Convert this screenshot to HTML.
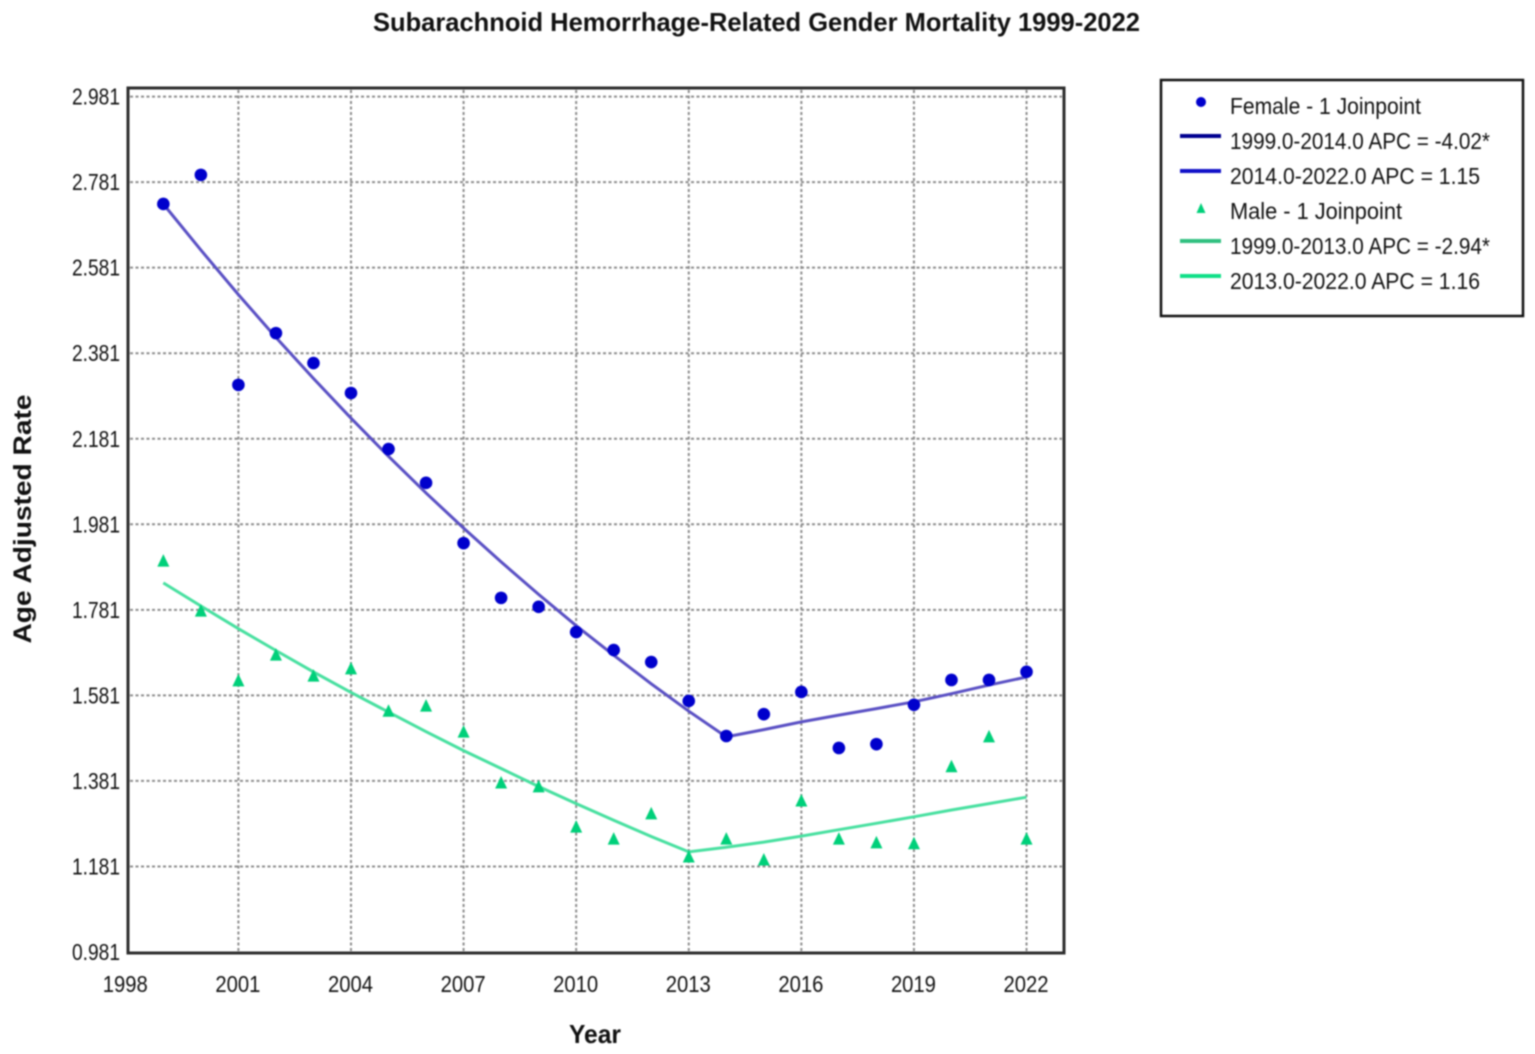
<!DOCTYPE html>
<html lang="en">
<head>
<meta charset="utf-8">
<title>Subarachnoid Hemorrhage-Related Gender Mortality 1999-2022</title>
<style>
  html, body { margin: 0; padding: 0; background: #fff; }
  body { width: 1535px; height: 1054px; overflow: hidden; }
  svg { display: block; filter: blur(0.75px); font-family: "Liberation Sans", "DejaVu Sans", sans-serif; }
</style>
</head>
<body>
<svg id="chart" xmlns="http://www.w3.org/2000/svg" width="1535" height="1054" viewBox="0 0 1535 1054">
  <rect x="0" y="0" width="1535" height="1054" fill="#ffffff"/>
  <text x="373" y="31" font-size="26" font-weight="bold" fill="#111" textLength="767" lengthAdjust="spacingAndGlyphs">Subarachnoid Hemorrhage-Related Gender Mortality 1999-2022</text>
  <g id="grid"></g>
  <rect x="128" y="88" width="936" height="865" fill="none" stroke="#2c2c2c" stroke-width="3"/>
  <g id="ticks"></g>
  <g id="marks"></g>
  <text transform="translate(31,519) rotate(-90)" text-anchor="middle" font-size="25" font-weight="bold" fill="#111" textLength="249" lengthAdjust="spacingAndGlyphs">Age Adjusted Rate</text>
  <text x="595" y="1043" text-anchor="middle" font-size="26" font-weight="bold" fill="#111" textLength="52" lengthAdjust="spacingAndGlyphs">Year</text>

  <g>
    <rect x="1161" y="80" width="362" height="236" fill="#ffffff" stroke="#111" stroke-width="2.5"/>
    <g>
      <circle cx="1201" cy="102" r="5" fill="#0000cc"/>
      <text x="1230" y="114" font-size="23" fill="#111" textLength="191" lengthAdjust="spacingAndGlyphs">Female - 1 Joinpoint</text>
    </g>
    <g>
      <line x1="1180" y1="136" x2="1221" y2="136" stroke="#000090" stroke-width="4"/>
      <text x="1230" y="149" font-size="23" fill="#111" textLength="260" lengthAdjust="spacingAndGlyphs">1999.0-2014.0 APC  =  -4.02*</text>
    </g>
    <g>
      <line x1="1180" y1="171" x2="1221" y2="171" stroke="#1010c8" stroke-width="4"/>
      <text x="1230" y="184" font-size="23" fill="#111" textLength="250" lengthAdjust="spacingAndGlyphs">2014.0-2022.0 APC  =  1.15</text>
    </g>
    <g>
      <polygon points="1201,203 1205.5,213 1196.5,213" fill="#00d07a"/>
      <text x="1230" y="219" font-size="23" fill="#111" textLength="172" lengthAdjust="spacingAndGlyphs">Male - 1 Joinpoint</text>
    </g>
    <g>
      <line x1="1180" y1="241" x2="1221" y2="241" stroke="#30c080" stroke-width="4"/>
      <text x="1230" y="254" font-size="23" fill="#111" textLength="260" lengthAdjust="spacingAndGlyphs">1999.0-2013.0 APC  =  -2.94*</text>
    </g>
    <g>
      <line x1="1180" y1="276" x2="1221" y2="276" stroke="#10e088" stroke-width="4"/>
      <text x="1230" y="289" font-size="23" fill="#111" textLength="250" lengthAdjust="spacingAndGlyphs">2013.0-2022.0 APC  =  1.16</text>
    </g>
  </g>
</svg>
<script>
const years = [1999,2000,2001,2002,2003,2004,2005,2006,2007,2008,2009,2010,2011,2012,2013,2014,2015,2016,2017,2018,2019,2020,2021,2022];
const femaleRates = [2.730,2.798,2.307,2.428,2.358,2.288,2.157,2.078,1.937,1.809,1.788,1.729,1.687,1.659,1.568,1.486,1.537,1.589,1.458,1.467,1.559,1.617,1.617,1.636];
const maleRates = [1.895,1.778,1.615,1.675,1.626,1.643,1.544,1.556,1.495,1.376,1.367,1.273,1.245,1.304,1.203,1.245,1.196,1.334,1.245,1.236,1.234,1.414,1.484,1.245];
const femaleFitYears = [1999,2000,2001,2002,2003,2004,2005,2006,2007,2008,2009,2010,2011,2012,2013,2014,2015,2016,2017,2018,2019,2020,2021,2022];
const femaleFit = [2.730,2.622,2.518,2.418,2.322,2.229,2.140,2.054,1.972,1.893,1.817,1.744,1.675,1.608,1.544,1.484,1.501,1.519,1.535,1.550,1.566,1.585,1.605,1.624];
const maleFitYears = [1999,2000,2001,2002,2003,2004,2005,2006,2007,2008,2009,2010,2011,2012,2013,2014,2015,2016,2017,2018,2019,2020,2021,2022];
const maleFit = [1.844,1.790,1.737,1.686,1.636,1.588,1.542,1.496,1.452,1.410,1.368,1.328,1.289,1.251,1.215,1.226,1.238,1.252,1.267,1.282,1.297,1.313,1.328,1.343];
const yTickLabels = ["0.981","1.181","1.381","1.581","1.781","1.981","2.181","2.381","2.581","2.781","2.981"];
const xTickLabels = ["1998","2001","2004","2007","2010","2013","2016","2019","2022"];

const NS = 'http://www.w3.org/2000/svg';
const xScale = function (year) { return 238.4 + (year - 2001) * 37.53; };
const yScale = function (value) { return 952 - (value - 0.981) * 427.7; };

const grid = document.getElementById('grid');
const ticks = document.getElementById('ticks');
const marks = document.getElementById('marks');

yTickLabels.forEach(function (label) {
  const y = yScale(parseFloat(label));
  if (parseFloat(label) > 1) {
    const gridLine = document.createElementNS(NS, 'line');
    
    
    gridLine.setAttribute('x1', 130);
    gridLine.setAttribute('x2', 1062);
    gridLine.setAttribute('y1', y);
    gridLine.setAttribute('y2', y);
    gridLine.setAttribute('stroke', '#8c8c8c');
    gridLine.setAttribute('stroke-width', 2);
    gridLine.setAttribute('stroke-dasharray', '3 2.5');
    grid.appendChild(gridLine);
  }
  const tick = document.createElementNS(NS, 'text');
  
  
  tick.setAttribute('x', 72);
  tick.setAttribute('y', y + 8);
  tick.setAttribute('font-size', 23);
  tick.setAttribute('fill', '#111');
  tick.setAttribute('textLength', 48);
  tick.setAttribute('lengthAdjust', 'spacingAndGlyphs');
  tick.textContent = label;
  ticks.appendChild(tick);
});

xTickLabels.forEach(function (label) {
  const x = xScale(parseFloat(label));
  if (parseFloat(label) > 1998) {
    const gridLine = document.createElementNS(NS, 'line');
    
    
    gridLine.setAttribute('x1', x);
    gridLine.setAttribute('x2', x);
    gridLine.setAttribute('y1', 90);
    gridLine.setAttribute('y2', 951);
    gridLine.setAttribute('stroke', '#8c8c8c');
    gridLine.setAttribute('stroke-width', 2);
    gridLine.setAttribute('stroke-dasharray', '3 2.5');
    grid.appendChild(gridLine);
  }
  const tick = document.createElementNS(NS, 'text');
  
  
  tick.setAttribute('x', x - 0.5);
  tick.setAttribute('y', 992);
  tick.setAttribute('font-size', 23);
  tick.setAttribute('fill', '#111');
  tick.setAttribute('text-anchor', 'middle');
  tick.setAttribute('textLength', 45);
  tick.setAttribute('lengthAdjust', 'spacingAndGlyphs');
  tick.textContent = label;
  ticks.appendChild(tick);
});

function pointsFor(xs, ys) {
  return xs.map(function (year, i) { return xScale(year).toFixed(1) + ',' + yScale(ys[i]).toFixed(1); }).join(' ');
}

const maleLine = document.createElementNS(NS, 'polyline');


maleLine.setAttribute('points', pointsFor(maleFitYears, maleFit));
maleLine.setAttribute('fill', 'none');
maleLine.setAttribute('stroke', '#48e0a0');
maleLine.setAttribute('stroke-width', 3);
marks.appendChild(maleLine);

const femaleLine = document.createElementNS(NS, 'polyline');


femaleLine.setAttribute('points', pointsFor(femaleFitYears, femaleFit));
femaleLine.setAttribute('fill', 'none');
femaleLine.setAttribute('stroke', '#5a50c4');
femaleLine.setAttribute('stroke-width', 3);
marks.appendChild(femaleLine);

years.forEach(function (year, i) {
  const x = xScale(year);
  const yMale = yScale(maleRates[i]);
  const tri = document.createElementNS(NS, 'polygon');
  
  
  tri.setAttribute('points', x + ',' + (yMale - 7) + ' ' + (x + 6) + ',' + (yMale + 5.5) + ' ' + (x - 6) + ',' + (yMale + 5.5));
  tri.setAttribute('fill', '#00d07a');
  marks.appendChild(tri);

  const dot = document.createElementNS(NS, 'circle');
  
  
  dot.setAttribute('cx', x);
  dot.setAttribute('cy', yScale(femaleRates[i]));
  dot.setAttribute('r', 6.3);
  dot.setAttribute('fill', '#0000cc');
  marks.appendChild(dot);
});
</script>
</body>
</html>
